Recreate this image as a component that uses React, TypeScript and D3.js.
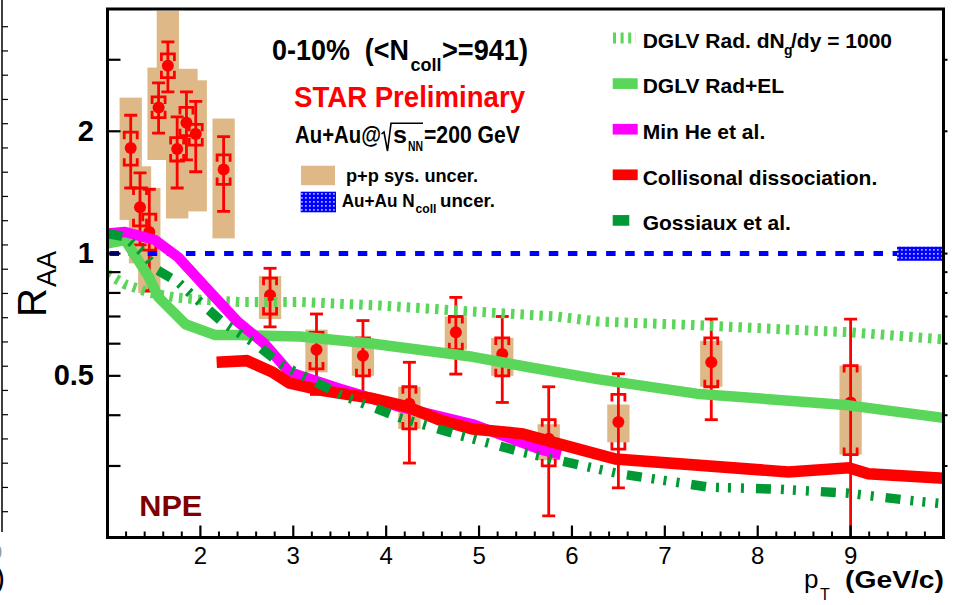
import React from 'react';
import * as d3 from 'd3';

// ---------------- data ----------------
const PT = [1.25, 1.35, 1.45, 1.55, 1.65, 1.75, 1.85, 1.95, 2.25, 2.75, 3.25, 3.75, 4.25, 4.75, 5.25, 5.75, 6.5, 7.5, 9.0];
const RAA = [1.82, 1.30, 1.13, 2.29, 2.90, 1.81, 2.10, 1.97, 1.61, 0.79, 0.58, 0.56, 0.427, 0.64, 0.566, 0.35, 0.385, 0.54, 0.43];
const STAT_LO = [1.45, 1.05, 0.81, 1.98, 2.50, 1.45, 1.70, 1.59, 1.27, 0.66, 0.45, 0.44, 0.305, 0.505, 0.43, 0.226, 0.265, 0.39, 0.15];
const STAT_HI = [2.19, 1.58, 1.44, 2.63, 3.32, 2.17, 2.50, 2.37, 1.94, 0.92, 0.71, 0.684, 0.54, 0.78, 0.70, 0.47, 0.506, 0.69, 0.69];
const SYS_LO = [1.65, 1.17, 1.02, 2.16, 2.71, 1.69, 1.95, 1.85, 1.48, 0.71, 0.52, 0.50, 0.37, 0.58, 0.50, 0.30, 0.33, 0.47, 0.32];
const SYS_HI = [1.99, 1.45, 1.25, 2.43, 3.10, 1.93, 2.29, 2.08, 1.75, 0.87, 0.64, 0.62, 0.47, 0.70, 0.62, 0.39, 0.45, 0.62, 0.53];
const PP_LO = [1.21, 0.946, 0.80, 1.70, 2.05, 1.22, 1.45, 1.27, 1.09, 0.69, 0.51, 0.50, 0.37, 0.58, 0.50, 0.31, 0.343, 0.47, 0.32];
const PP_HI = [2.42, 1.64, 1.45, 2.87, 3.96, 2.45, 2.85, 2.67, 2.15, 0.88, 0.65, 0.62, 0.47, 0.70, 0.62, 0.38, 0.425, 0.61, 0.53];
const PP_HALF_WIDTH = 0.12;

const DGLV_RAD_PT = [1.0, 1.19, 1.46, 1.73, 2.0, 2.43, 3.07, 3.93, 4.93, 5.83, 6.29, 7.37, 8.44, 9.0, 10.0];
const DGLV_RAD_VAL = [0.89, 0.84, 0.80, 0.78, 0.77, 0.76, 0.76, 0.745, 0.72, 0.70, 0.68, 0.666, 0.648, 0.64, 0.615];

const DGLV_EL_PT = [1.0, 1.19, 1.44, 1.55, 1.84, 2.16, 2.43, 3.07, 3.86, 4.93, 5.54, 6.29, 7.34, 8.98, 10.0];
const DGLV_EL_VAL = [1.06, 1.08, 0.88, 0.78, 0.67, 0.63, 0.63, 0.625, 0.60, 0.557, 0.525, 0.49, 0.452, 0.423, 0.394];

const MINHE_PT = [1.0, 1.19, 1.51, 1.76, 2.05, 2.40, 2.69, 2.96, 3.50, 4.14, 4.93, 5.65, 5.88];
const MINHE_VAL = [1.12, 1.13, 1.08, 0.98, 0.83, 0.68, 0.60, 0.51, 0.465, 0.42, 0.38, 0.33, 0.32];

const COLL_PT = [2.175, 2.5, 2.78, 2.96, 3.32, 3.85, 4.22, 4.57, 4.93, 5.47, 5.86, 6.47, 8.33, 8.98, 9.19, 10.0];
const COLL_VAL = [0.54, 0.545, 0.51, 0.48, 0.46, 0.44, 0.42, 0.39, 0.37, 0.36, 0.34, 0.312, 0.29, 0.297, 0.287, 0.28];

const GOSS_PT = [1.0, 1.19, 1.37, 1.54, 1.76, 1.94, 2.23, 2.59, 2.89, 3.50, 4.14, 4.79, 5.47, 6.51, 7.48, 8.23, 8.98, 9.62, 10.0];
const GOSS_VAL = [1.12, 1.10, 1.01, 0.91, 0.85, 0.78, 0.68, 0.60, 0.53, 0.45, 0.395, 0.357, 0.324, 0.287, 0.266, 0.263, 0.257, 0.247, 0.242];

const NCOLL_BAND = { lo: 0.96, hi: 1.04, ptFrom: 9.5, ptTo: 10.0 };

const X_MAJOR = [2, 3, 4, 5, 6, 7, 8, 9];
const Y_TICKS = [0.3, 0.4, 0.5, 0.6, 0.7, 0.8, 0.9, 1, 2, 3];
const Y_LABELS = [{ v: 0.5, t: '0.5' }, { v: 1, t: '1' }, { v: 2, t: '2' }];

const LEGEND = [
  { key: 'rad', label: 'DGLV Rad. dN', sub: 'g', tail: '/dy = 1000' },
  { key: 'el', label: 'DGLV Rad+EL' },
  { key: 'he', label: 'Min He et al.' },
  { key: 'coll', label: 'Collisonal dissociation.' },
  { key: 'goss', label: 'Gossiaux et al.' },
];

// ---------------- styles ----------------
const FONT = "'Liberation Sans', Arial, Helvetica, sans-serif";
const RED = '#ff0000';
const TAN = '#deb887';
const LGREEN = '#5ad65a';
const DGREEN = '#009933';
const MAGENTA = '#ff00ff';
const BLUE = '#0000ff';

export default function App() {
  const W = 955, H = 605;
  const L = 107.5, R = 943.5, T = 9, B = 537.5;
  const x = d3.scaleLinear().domain([1, 10]).range([L, R]);
  const y = d3.scaleLog().domain([0.2, 4]).range([B, T]);

  const line = d3.line<[number, number]>().x(d => x(d[0])).y(d => y(d[1]));
  const mk = (p: number[], v: number[]) => line(d3.zip(p, v) as [number, number][]) || '';

  const minor = d3.range(1.2, 9.99, 0.2).filter(v => Math.abs(v - Math.round(v)) > 1e-6);

  const styles: Record<string, any> = {
    rad: { stroke: LGREEN, strokeWidth: 10, strokeDasharray: '3.5 6' },
    el: { stroke: LGREEN, strokeWidth: 10.5 },
    he: { stroke: MAGENTA, strokeWidth: 10.5 },
    coll: { stroke: RED, strokeWidth: 11.5 },
    goss: { stroke: DGREEN, strokeWidth: 9.5, strokeDasharray: '15 10 3 9 3 10 3 12' },
  };

  const neighborTicks = d3.range(0, 21).map(i => 26.7 + i * 24.25);

  return (
    <svg width={W} height={H} viewBox={`0 0 ${W} ${H}`}
      style={{ position: 'absolute', left: 0, top: 0, background: '#fff', fontFamily: FONT }}>
      <defs>
        <clipPath id="plot"><rect x={L} y={T} width={R - L} height={B - T} /></clipPath>
        <pattern id="hatch" width="4" height="4" patternUnits="userSpaceOnUse">
          <rect width="4" height="4" fill={BLUE} />
          <rect x="1.2" y="1.2" width="1.4" height="1.4" fill="#fff" />
        </pattern>
      </defs>
      <rect x={0} y={0} width={W} height={H} fill="#fff" />

      {/* neighbouring panel edge */}
      <line x1={2} x2={2} y1={0} y2={532} stroke="#000" strokeWidth={1.5} />
      {neighborTicks.map((t, i) => <line key={i} x1={2} x2={8} y1={t} y2={t} stroke="#000" strokeWidth={1.2} />)}
      <text x={2} y={559} fontSize={20} textAnchor="end" fill="#999">0</text>
      <text x={5} y={588} fontSize={30} textAnchor="end">)</text>

      <g clipPath="url(#plot)">
        {/* p+p boxes */}
        {PT.map((p, i) => (
          <rect key={'b' + i} x={x(p - PP_HALF_WIDTH)} width={x(p + PP_HALF_WIDTH) - x(p - PP_HALF_WIDTH)}
            y={y(PP_HI[i])} height={y(PP_LO[i]) - y(PP_HI[i])} fill={TAN} />
        ))}
        {/* data points */}
        {PT.map((p, i) => {
          const cx = x(p);
          const cw = 6.5;
          const st = 7;
          const yh = y(SYS_HI[i]), yl = y(SYS_LO[i]);
          return (
            <g key={'p' + i} stroke={RED} strokeWidth={2.8} fill="none">
              <line x1={cx} x2={cx} y1={y(STAT_HI[i])} y2={y(STAT_LO[i])} />
              <line x1={cx - cw} x2={cx + cw} y1={y(STAT_HI[i])} y2={y(STAT_HI[i])} />
              <line x1={cx - cw} x2={cx + cw} y1={y(STAT_LO[i])} y2={y(STAT_LO[i])} />
              <path d={`M${cx - cw},${yh + st}V${yh}H${cx + cw}V${yh + st}`} />
              <path d={`M${cx - cw},${yl - st}V${yl}H${cx + cw}V${yl - st}`} />
              <circle cx={cx} cy={y(RAA[i])} r={6} fill={RED} stroke="none" />
            </g>
          );
        })}
        {/* unity line */}
        <line x1={L + 2} x2={x(NCOLL_BAND.ptFrom)} y1={y(1)} y2={y(1)} stroke={BLUE} strokeWidth={5} strokeDasharray="9.5 9.6" />
        <rect x={x(NCOLL_BAND.ptFrom)} width={x(NCOLL_BAND.ptTo) - x(NCOLL_BAND.ptFrom)}
          y={y(NCOLL_BAND.hi)} height={y(NCOLL_BAND.lo) - y(NCOLL_BAND.hi)} fill="url(#hatch)" />
        {/* model curves */}
        <path d={mk(DGLV_RAD_PT, DGLV_RAD_VAL)} fill="none" {...styles.rad} />
        <path d={mk(DGLV_EL_PT, DGLV_EL_VAL)} fill="none" {...styles.el} strokeLinejoin="round" />
        <path d={mk(MINHE_PT, MINHE_VAL)} fill="none" {...styles.he} strokeLinejoin="round" />
        <path d={mk(COLL_PT, COLL_VAL)} fill="none" {...styles.coll} />
        <path d={mk(GOSS_PT, GOSS_VAL)} fill="none" {...styles.goss} />
      </g>

      {/* frame */}
      <rect x={L} y={T} width={R - L} height={B - T} fill="none" stroke="#000" strokeWidth={3} />
      {/* x ticks */}
      {X_MAJOR.map(v => <line key={'xM' + v} x1={x(v)} x2={x(v)} y1={B} y2={B - 12} stroke="#000" strokeWidth={2.2} />)}
      {minor.map((v, i) => <line key={'xm' + i} x1={x(v)} x2={x(v)} y1={B} y2={B - 6} stroke="#000" strokeWidth={2} />)}
      {X_MAJOR.map(v => (
        <text key={'xl' + v} x={x(v)} y={564} fontSize={24} textAnchor="middle">{v}</text>
      ))}
      {/* y ticks */}
      {Y_TICKS.map(v => <line key={'yM' + v} x1={L} x2={L + 13} y1={y(v)} y2={y(v)} stroke="#000" strokeWidth={2.2} />)}
      {Y_TICKS.map(v => <line key={'yR' + v} x1={R} x2={R + 4} y1={y(v)} y2={y(v)} stroke="#000" strokeWidth={2} />)}
      {Y_LABELS.map(d => (
        <text key={'yl' + d.t} x={94} y={y(d.v) + 9.5} fontSize={29} fontWeight="bold" textAnchor="end">{d.t}</text>
      ))}

      {/* axis titles */}
      <g transform="translate(46,317) rotate(-90)">
        <text x={0} y={0} fontSize={40}>R</text>
        <text x={30} y={10} fontSize={27}>AA</text>
      </g>
      <text x={804} y={588} fontSize={26}>p</text>
      <text x={820} y={600} fontSize={16}>T</text>
      <text x={845} y={588} fontSize={24} fontWeight="bold" textLength={99} lengthAdjust="spacingAndGlyphs">(GeV/c)</text>

      {/* annotations */}
      <text x={272} y={60} fontSize={30} fontWeight="bold" textLength={137} lengthAdjust="spacingAndGlyphs" xmlSpace="preserve">0-10%  (&lt;N</text>
      <text x={410.5} y={70.5} fontSize={19} fontWeight="bold" textLength={31} lengthAdjust="spacingAndGlyphs">coll</text>
      <text x={442} y={60} fontSize={30} fontWeight="bold" textLength={86} lengthAdjust="spacingAndGlyphs">&gt;=941)</text>
      <text x={294} y={107} fontSize={30} fontWeight="bold" fill={RED} textLength={231} lengthAdjust="spacingAndGlyphs">STAR Preliminary</text>
      <text x={295} y={143.3} fontSize={23} fontWeight="bold" textLength={86} lengthAdjust="spacingAndGlyphs">Au+Au@</text>
      <path d="M381.5,134 L384,132 L387.5,151 L391,123.3 H423" fill="none" stroke="#000" strokeWidth={1.6} />
      <text x={393} y={143.3} fontSize={23} fontWeight="bold" textLength={14} lengthAdjust="spacingAndGlyphs">s</text>
      <text x={408} y={151} fontSize={15} fontWeight="bold" textLength={15} lengthAdjust="spacingAndGlyphs">NN</text>
      <text x={424} y={143.3} fontSize={23} fontWeight="bold" textLength={96} lengthAdjust="spacingAndGlyphs">=200 GeV</text>

      <rect x={301} y={165.7} width={34} height={19.5} fill={TAN} />
      <text x={346} y={181.7} fontSize={19} fontWeight="bold" textLength={132} lengthAdjust="spacingAndGlyphs">p+p sys. uncer.</text>
      <rect x={300.7} y={191.7} width={35.3} height={20.6} fill="url(#hatch)" />
      <text x={341.7} y={206.7} fontSize={19} fontWeight="bold" textLength={73} lengthAdjust="spacingAndGlyphs">Au+Au N</text>
      <text x={415.5} y={213.3} fontSize={13} fontWeight="bold" textLength={21} lengthAdjust="spacingAndGlyphs">coll</text>
      <text x={440} y={206.7} fontSize={19} fontWeight="bold" textLength={55} lengthAdjust="spacingAndGlyphs">uncer.</text>

      <text x={139.3} y={516} fontSize={30} fontWeight="bold" fill="#800000" textLength={63} lengthAdjust="spacingAndGlyphs">NPE</text>

      {/* model legend */}
      {LEGEND.map((e, i) => {
        const cy = 38 + i * 45.6;
        const st = styles[e.key];
        const x2 = e.key === 'goss' ? 629.3 : 637.7;
        return (
          <g key={e.key}>
            {e.key === 'rad'
              ? <line x1={613} x2={636} y1={cy} y2={cy} stroke={LGREEN} strokeWidth={11} strokeDasharray="3 4.6" />
              : <line x1={612.7} x2={x2} y1={cy} y2={cy} stroke={st.stroke} strokeWidth={10.7} />}
            <text x={642.7} y={cy + 9.7} fontSize={21} fontWeight="bold">{e.label}</text>
            {e.sub && <text x={784} y={cy + 16.5} fontSize={14} fontWeight="bold">{e.sub}</text>}
            {e.tail && <text x={791} y={cy + 9.7} fontSize={21} fontWeight="bold">{e.tail}</text>}
          </g>
        );
      })}
    </svg>
  );
}
